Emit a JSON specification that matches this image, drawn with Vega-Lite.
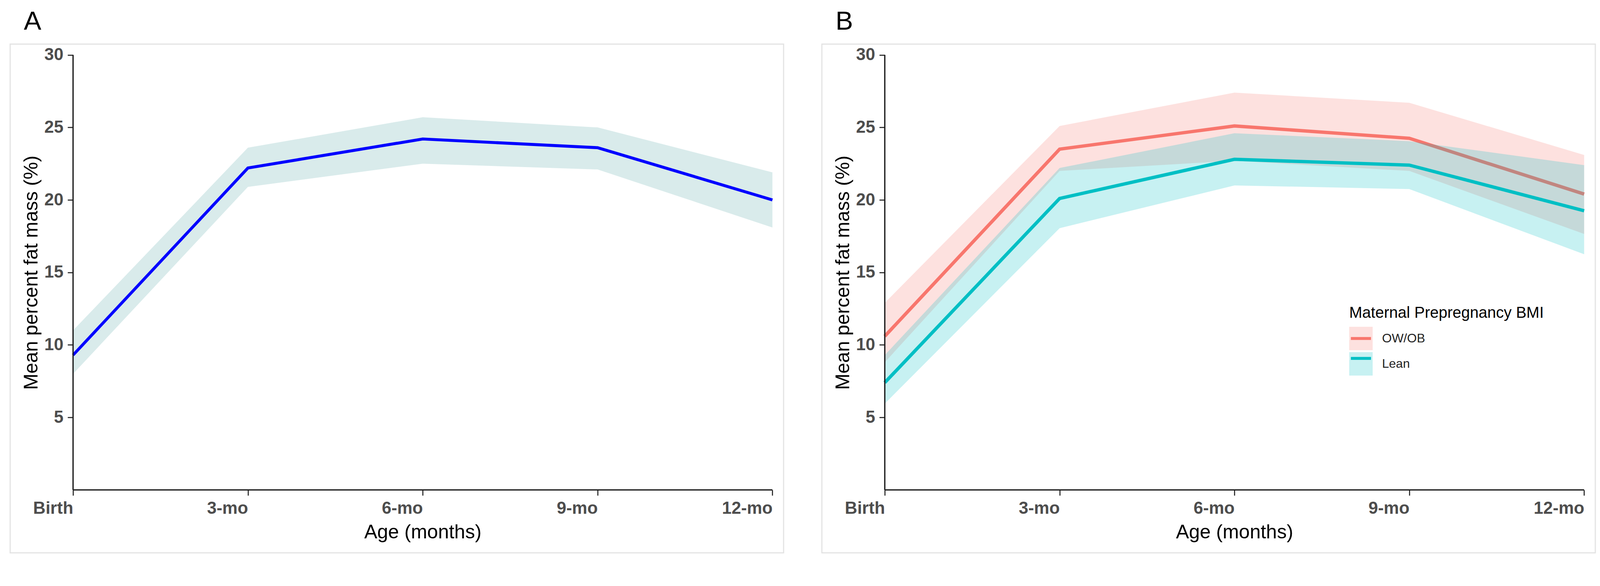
{
  "$schema": "https://vega.github.io/schema/vega-lite/v6.json",
  "padding": {"left": 24, "top": 20, "right": 18, "bottom": 18},
  "background": "white",
  "config": {
    "font": "Liberation Sans",
    "view": {"stroke": "#E3E3E3", "strokeWidth": 2.9},
    "concat": {"spacing": 94},
    "title": {"fontSize": 67, "fontWeight": "normal", "anchor": "start", "frame": "group", "color": "#000000", "offset": 23, "dx": 35, "font": "Liberation Sans"},
    "axis": {
      "domain": false, "grid": false, "ticks": true, "tickSize": 14, "tickWidth": 2.9, "tickColor": "#333333",
      "labelFont": "Liberation Sans", "labelFontSize": 44, "labelFontWeight": "bold", "labelColor": "#4D4D4D",
      "labelPadding": 11, "labelFlush": false, "labelOverlap": false, "labelBound": false,
      "titleFont": "Liberation Sans", "titleFontSize": 50, "titleFontWeight": "normal", "titleColor": "#000000"
    }
  },
  "datasets": {
    "a": [
      {"age": 0, "mean": 9.3, "lo": 8.0, "hi": 11.0},
      {"age": 3, "mean": 22.2, "lo": 20.9, "hi": 23.6},
      {"age": 6, "mean": 24.2, "lo": 22.5, "hi": 25.7},
      {"age": 9, "mean": 23.6, "lo": 22.1, "hi": 25.0},
      {"age": 12, "mean": 20.0, "lo": 18.1, "hi": 21.9}
    ],
    "b": [
      {"group": "OW/OB", "age": 0, "mean": 10.6, "lo": 8.8, "hi": 12.9},
      {"group": "OW/OB", "age": 3, "mean": 23.5, "lo": 22.0, "hi": 25.1},
      {"group": "OW/OB", "age": 6, "mean": 25.1, "lo": 22.7, "hi": 27.4},
      {"group": "OW/OB", "age": 9, "mean": 24.25, "lo": 22.0, "hi": 26.7},
      {"group": "OW/OB", "age": 12, "mean": 20.4, "lo": 17.65, "hi": 23.1},
      {"group": "Lean", "age": 0, "mean": 7.4, "lo": 5.95, "hi": 9.3},
      {"group": "Lean", "age": 3, "mean": 20.1, "lo": 18.05, "hi": 22.2},
      {"group": "Lean", "age": 6, "mean": 22.8, "lo": 21.0, "hi": 24.6},
      {"group": "Lean", "age": 9, "mean": 22.4, "lo": 20.75, "hi": 24.05},
      {"group": "Lean", "age": 12, "mean": 19.25, "lo": 16.25, "hi": 22.4}
    ]
  },
  "hconcat": [
    {
      "width": 1980, "height": 1303,
      "title": {"text": "A"},
      "data": {"name": "a"},
      "layer": [
        {
          "mark": {"type": "area", "color": "#D9EBEB", "opacity": 1},
          "encoding": {
            "x": {"field": "age", "type": "quantitative", "scale": {"domain": [-1.0793, 12.1916], "nice": false, "zero": false},
                  "axis": {"title": "Age (months)", "values": [0, 3, 6, 9, 12], "labelExpr": "datum.value == 0 ? 'Birth' : datum.value + '-mo'", "labelAlign": "right", "offset": -161, "titlePadding": 14, "titleX": 1056}},
            "y": {"field": "lo", "type": "quantitative", "scale": {"domain": [-4.337, 30.744], "nice": false, "zero": false},
                  "axis": {"title": "Mean percent fat mass (%)", "values": [5, 10, 15, 20, 25, 30], "offset": -161, "titlePadding": 8, "titleY": 585}},
            "y2": {"field": "hi"}
          }
        },
        {
          "mark": {"type": "line", "color": "#0000FF", "strokeWidth": 7.6},
          "encoding": {
            "x": {"field": "age", "type": "quantitative", "scale": {"domain": [-1.0793, 12.1916], "nice": false, "zero": false},
                  "axis": {"title": "Age (months)", "values": [0, 3, 6, 9, 12], "labelExpr": "datum.value == 0 ? 'Birth' : datum.value + '-mo'", "labelAlign": "right", "offset": -161, "titlePadding": 14, "titleX": 1056}},
            "y": {"field": "mean", "type": "quantitative", "scale": {"domain": [-4.337, 30.744], "nice": false, "zero": false},
                  "axis": {"title": "Mean percent fat mass (%)", "values": [5, 10, 15, 20, 25, 30], "offset": -161, "titlePadding": 8, "titleY": 585}}
          }
        },
        {
          "data": {"values": [{}]},
          "mark": {"type": "rule", "color": "#1A1A1A", "strokeWidth": 3.3},
          "encoding": {
            "x": {"datum": 0, "type": "quantitative", "scale": {"domain": [-1.0793, 12.1916], "nice": false, "zero": false},
                  "axis": {"title": "Age (months)", "values": [0, 3, 6, 9, 12], "labelExpr": "datum.value == 0 ? 'Birth' : datum.value + '-mo'", "labelAlign": "right", "offset": -161, "titlePadding": 14, "titleX": 1056}},
            "y": {"datum": 0, "type": "quantitative", "scale": {"domain": [-4.337, 30.744], "nice": false, "zero": false},
                  "axis": {"title": "Mean percent fat mass (%)", "values": [5, 10, 15, 20, 25, 30], "offset": -161, "titlePadding": 8, "titleY": 585}},
            "y2": {"datum": 30}
          }
        },
        {
          "data": {"values": [{}]},
          "mark": {"type": "rule", "color": "#1A1A1A", "strokeWidth": 3.3},
          "encoding": {
            "x": {"datum": 0, "type": "quantitative", "scale": {"domain": [-1.0793, 12.1916], "nice": false, "zero": false},
                  "axis": {"title": "Age (months)", "values": [0, 3, 6, 9, 12], "labelExpr": "datum.value == 0 ? 'Birth' : datum.value + '-mo'", "labelAlign": "right", "offset": -161, "titlePadding": 14, "titleX": 1056}},
            "x2": {"datum": 12},
            "y": {"datum": 0, "type": "quantitative", "scale": {"domain": [-4.337, 30.744], "nice": false, "zero": false},
                  "axis": {"title": "Mean percent fat mass (%)", "values": [5, 10, 15, 20, 25, 30], "offset": -161, "titlePadding": 8, "titleY": 585}}
          }
        }
      ]
    },
    {
      "width": 1980, "height": 1303,
      "title": {"text": "B"},
      "data": {"name": "b"},
      "layer": [
        {
          "transform": [{"filter": "datum.group == 'OW/OB'"}],
          "mark": {"type": "area", "opacity": 0.22},
          "encoding": {
            "x": {"field": "age", "type": "quantitative", "scale": {"domain": [-1.0793, 12.1916], "nice": false, "zero": false},
                  "axis": {"title": "Age (months)", "values": [0, 3, 6, 9, 12], "labelExpr": "datum.value == 0 ? 'Birth' : datum.value + '-mo'", "labelAlign": "right", "offset": -161, "titlePadding": 14, "titleX": 1056}},
            "y": {"field": "lo", "type": "quantitative", "scale": {"domain": [-4.337, 30.744], "nice": false, "zero": false},
                  "axis": {"title": "Mean percent fat mass (%)", "values": [5, 10, 15, 20, 25, 30], "offset": -161, "titlePadding": 8, "titleY": 585}},
            "y2": {"field": "hi"},
            "fill": {"field": "group", "type": "nominal", "sort": ["OW/OB", "Lean"], "scale": {"range": ["#F8766D", "#00BFC4"]},
                     "legend": {"title": "Maternal Prepregnancy BMI", "orient": "none", "legendX": 3428, "legendY": 669, "padding": 0,
                                "symbolType": "square", "symbolSize": 3600, "symbolOpacity": 0.22, "symbolStrokeWidth": 0,
                                "titleFont": "Liberation Sans", "titleFontSize": 40, "titleFontWeight": "normal", "titleColor": "#000000", "titlePadding": 15, "titleLimit": 0,
                                "labelFont": "Liberation Sans", "labelFontSize": 32, "labelColor": "#222222", "labelOffset": 24, "labelLimit": 0, "rowPadding": 5}}
          }
        },
        {
          "transform": [{"filter": "datum.group == 'OW/OB'"}],
          "mark": {"type": "line", "strokeWidth": 8.6},
          "encoding": {
            "x": {"field": "age", "type": "quantitative", "scale": {"domain": [-1.0793, 12.1916], "nice": false, "zero": false},
                  "axis": {"title": "Age (months)", "values": [0, 3, 6, 9, 12], "labelExpr": "datum.value == 0 ? 'Birth' : datum.value + '-mo'", "labelAlign": "right", "offset": -161, "titlePadding": 14, "titleX": 1056}},
            "y": {"field": "mean", "type": "quantitative", "scale": {"domain": [-4.337, 30.744], "nice": false, "zero": false},
                  "axis": {"title": "Mean percent fat mass (%)", "values": [5, 10, 15, 20, 25, 30], "offset": -161, "titlePadding": 8, "titleY": 585}},
            "stroke": {"field": "group", "type": "nominal", "scale": {"domain": ["OW/OB", "Lean"], "range": ["#F8766D", "#00BFC4"]},
                       "legend": {"title": "Maternal Prepregnancy BMI", "orient": "none", "legendX": 3428, "legendY": 669, "padding": 0,
                                  "symbolType": "stroke", "symbolSize": 2652, "symbolStrokeWidth": 7.6,
                                  "titleFont": "Liberation Sans", "titleFontSize": 40, "titleFontWeight": "normal", "titleOpacity": 0, "titlePadding": 15, "titleLimit": 0,
                                  "labelExpr": "''", "labelFont": "Liberation Sans", "labelFontSize": 32, "labelOpacity": 0, "labelOffset": 24, "labelLimit": 0, "rowPadding": 5}}
          }
        },
        {
          "transform": [{"filter": "datum.group == 'Lean'"}],
          "mark": {"type": "area", "opacity": 0.22},
          "encoding": {
            "x": {"field": "age", "type": "quantitative", "scale": {"domain": [-1.0793, 12.1916], "nice": false, "zero": false},
                  "axis": {"title": "Age (months)", "values": [0, 3, 6, 9, 12], "labelExpr": "datum.value == 0 ? 'Birth' : datum.value + '-mo'", "labelAlign": "right", "offset": -161, "titlePadding": 14, "titleX": 1056}},
            "y": {"field": "lo", "type": "quantitative", "scale": {"domain": [-4.337, 30.744], "nice": false, "zero": false},
                  "axis": {"title": "Mean percent fat mass (%)", "values": [5, 10, 15, 20, 25, 30], "offset": -161, "titlePadding": 8, "titleY": 585}},
            "y2": {"field": "hi"},
            "fill": {"field": "group", "type": "nominal", "sort": ["OW/OB", "Lean"]}
          }
        },
        {
          "transform": [{"filter": "datum.group == 'Lean'"}],
          "mark": {"type": "line", "strokeWidth": 8.6},
          "encoding": {
            "x": {"field": "age", "type": "quantitative", "scale": {"domain": [-1.0793, 12.1916], "nice": false, "zero": false},
                  "axis": {"title": "Age (months)", "values": [0, 3, 6, 9, 12], "labelExpr": "datum.value == 0 ? 'Birth' : datum.value + '-mo'", "labelAlign": "right", "offset": -161, "titlePadding": 14, "titleX": 1056}},
            "y": {"field": "mean", "type": "quantitative", "scale": {"domain": [-4.337, 30.744], "nice": false, "zero": false},
                  "axis": {"title": "Mean percent fat mass (%)", "values": [5, 10, 15, 20, 25, 30], "offset": -161, "titlePadding": 8, "titleY": 585}},
            "stroke": {"field": "group", "type": "nominal"}
          }
        },
        {
          "data": {"values": [{}]},
          "mark": {"type": "rule", "color": "#1A1A1A", "strokeWidth": 3.3},
          "encoding": {
            "x": {"datum": 0, "type": "quantitative", "scale": {"domain": [-1.0793, 12.1916], "nice": false, "zero": false},
                  "axis": {"title": "Age (months)", "values": [0, 3, 6, 9, 12], "labelExpr": "datum.value == 0 ? 'Birth' : datum.value + '-mo'", "labelAlign": "right", "offset": -161, "titlePadding": 14, "titleX": 1056}},
            "y": {"datum": 0, "type": "quantitative", "scale": {"domain": [-4.337, 30.744], "nice": false, "zero": false},
                  "axis": {"title": "Mean percent fat mass (%)", "values": [5, 10, 15, 20, 25, 30], "offset": -161, "titlePadding": 8, "titleY": 585}},
            "y2": {"datum": 30}
          }
        },
        {
          "data": {"values": [{}]},
          "mark": {"type": "rule", "color": "#1A1A1A", "strokeWidth": 3.3},
          "encoding": {
            "x": {"datum": 0, "type": "quantitative", "scale": {"domain": [-1.0793, 12.1916], "nice": false, "zero": false},
                  "axis": {"title": "Age (months)", "values": [0, 3, 6, 9, 12], "labelExpr": "datum.value == 0 ? 'Birth' : datum.value + '-mo'", "labelAlign": "right", "offset": -161, "titlePadding": 14, "titleX": 1056}},
            "x2": {"datum": 12},
            "y": {"datum": 0, "type": "quantitative", "scale": {"domain": [-4.337, 30.744], "nice": false, "zero": false},
                  "axis": {"title": "Mean percent fat mass (%)", "values": [5, 10, 15, 20, 25, 30], "offset": -161, "titlePadding": 8, "titleY": 585}}
          }
        }
      ]
    }
  ]
}
